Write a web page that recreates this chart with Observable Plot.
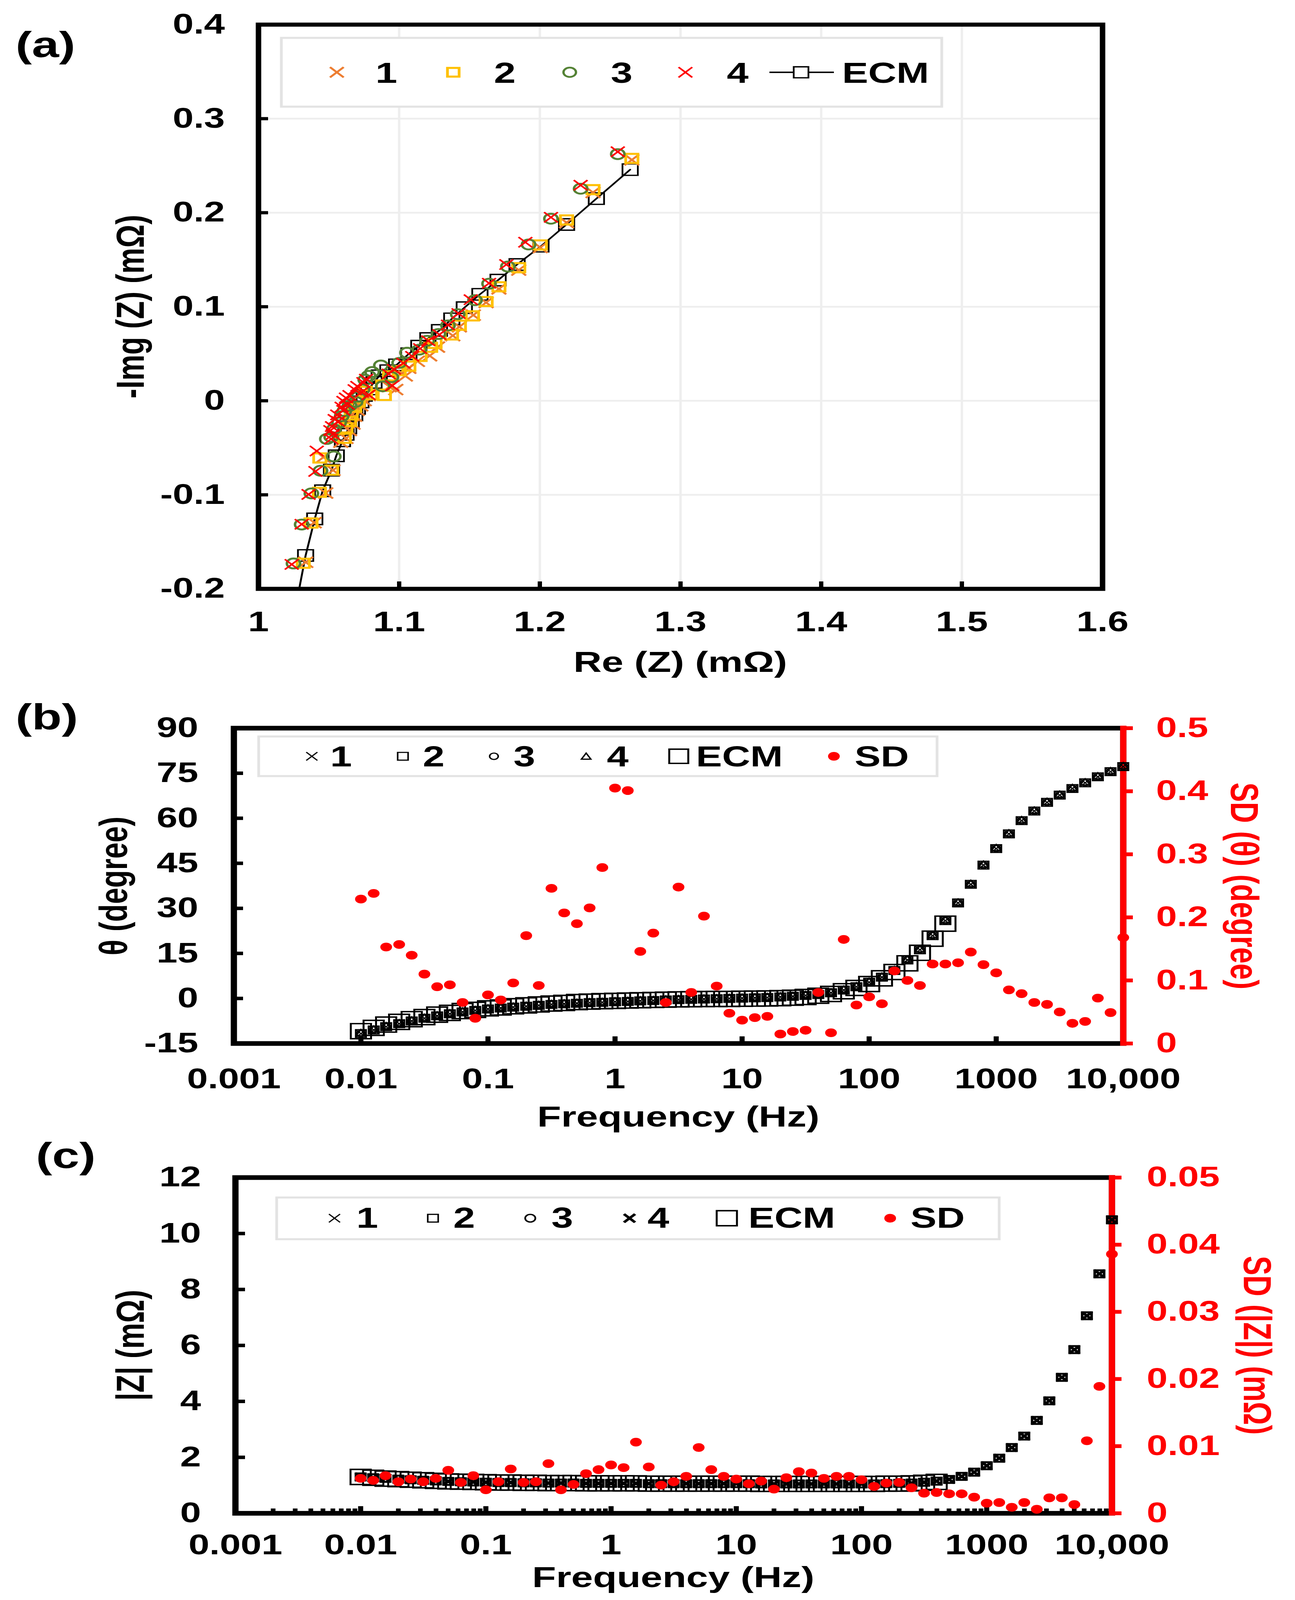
<!DOCTYPE html>
<html><head><meta charset="utf-8">
<script src="https://cdn.jsdelivr.net/npm/d3@7"></script>
<script src="https://cdn.jsdelivr.net/npm/@observablehq/plot@0.6"></script>
<style>
html,body{margin:0;padding:0;background:#fff;overflow:hidden;}
#page{position:relative;width:3314px;height:5490px;overflow:hidden;background:#fff;transform-origin:0 0;}
.panel{position:absolute;left:0;}
#overlay{position:absolute;left:0;top:0;pointer-events:none;}
</style></head>
<body><div id="page"></div>
<script>
// ---------------- DATA ----------------
const freq = [0.01,0.0126,0.0158,0.02,0.0251,0.0316,0.0398,0.0501,0.0631,0.0794,
  0.1,0.126,0.158,0.2,0.251,0.316,0.398,0.501,0.631,0.794,
  1,1.26,1.58,2,2.51,3.16,3.98,5.01,6.31,7.94,
  10,12.6,15.8,20,25.1,31.6,39.8,50.1,63.1,79.4,
  100,126,158,200,251,316,398,501,631,794,
  1000,1259,1585,1995,2512,3162,3981,5012,6310,7943,10000];

const thetaMeas = [-11.7,-10.5,-9.4,-8.4,-7.5,-6.6,-5.8,-5.1,-4.5,-4.0,
  -3.5,-3.2,-2.9,-2.6,-2.3,-2.0,-1.8,-1.6,-1.4,-1.3,
  -1.1,-1.0,-0.8,-0.7,-0.5,-0.4,-0.3,-0.2,-0.1,0.0,
  0.1,0.2,0.3,0.5,0.7,1.0,1.3,1.9,2.8,3.9,
  5.4,7.1,9.3,12.8,16.2,20.9,25.9,31.8,38.0,44.4,
  49.9,54.8,59.2,62.4,65.3,67.7,69.9,71.8,73.8,75.5,77.2];

const thetaECM = [-10.9,-9.8,-8.7,-7.8,-6.9,-6.2,-5.4,-4.8,-4.2,-3.8,
  -3.3,-3.0,-2.6,-2.3,-2.0,-1.7,-1.5,-1.2,-1.05,-0.9,
  -0.8,-0.7,-0.6,-0.5,-0.4,-0.3,-0.25,-0.2,-0.15,-0.15,
  -0.1,-0.05,0.0,0.1,0.25,0.5,0.9,1.5,2.4,3.5,
  4.8,6.7,8.8,11.7,15.2,19.9,24.9];

const sdTheta = [0.229,0.238,0.153,0.157,0.140,0.110,0.090,0.093,0.065,0.040,
  0.077,0.069,0.096,0.171,0.092,0.246,0.207,0.190,0.215,0.279,
  0.405,0.401,0.146,0.175,0.065,0.248,0.081,0.202,0.091,0.048,
  0.037,0.041,0.043,0.015,0.019,0.021,0.081,0.017,0.165,0.061,
  0.074,0.063,0.115,0.100,0.092,0.126,0.126,0.128,0.145,0.125,
  0.112,0.085,0.079,0.065,0.062,0.050,0.032,0.035,0.072,0.049,0.168];

const zMeas = [1.30,1.27,1.25,1.22,1.20,1.18,1.16,1.14,1.13,1.12,
  1.11,1.10,1.10,1.09,1.09,1.08,1.08,1.08,1.07,1.07,
  1.07,1.07,1.07,1.06,1.06,1.06,1.06,1.06,1.06,1.06,
  1.06,1.06,1.05,1.05,1.05,1.05,1.05,1.05,1.05,1.05,
  1.05,1.05,1.06,1.07,1.08,1.11,1.15,1.21,1.32,1.47,
  1.70,1.97,2.35,2.76,3.32,4.02,4.86,5.85,7.06,8.56,10.49];

const zECM = [1.30,1.27,1.24,1.22,1.20,1.18,1.16,1.14,1.13,1.12,
  1.11,1.10,1.10,1.09,1.09,1.08,1.08,1.08,1.07,1.07,
  1.07,1.07,1.07,1.06,1.06,1.06,1.06,1.06,1.06,1.06,
  1.06,1.06,1.05,1.05,1.05,1.05,1.05,1.05,1.05,1.05,
  1.05,1.05,1.06,1.06,1.07,1.09,1.12];

const sdZ = [0.0052,0.0049,0.0056,0.0047,0.0051,0.0047,0.0052,0.0064,0.0046,0.0056,
  0.0035,0.0047,0.0066,0.0046,0.0047,0.0074,0.0035,0.0043,0.0059,0.0065,
  0.0072,0.0068,0.0106,0.0069,0.0042,0.0047,0.0055,0.0098,0.0065,0.0055,
  0.0051,0.0044,0.0048,0.0036,0.0053,0.0062,0.0060,0.0052,0.0055,0.0055,
  0.0050,0.0040,0.0045,0.0046,0.0038,0.0030,0.0031,0.0029,0.0029,0.0024,
  0.0015,0.0016,0.0009,0.0016,0.0006,0.0023,0.0023,0.0013,0.0108,0.0189,0.0386];

// Nyquist: [Re, -Img]
const nyq1 = [[1.2654,0.2562],[1.2378,0.2215],[1.2190,0.1895],[1.2003,0.1630],[1.1850,0.1390],[1.1709,0.1190],[1.1618,0.1045],[1.1527,0.0911],[1.1428,0.0787],[1.1381,0.0693],[1.1273,0.0571],[1.1217,0.0479],[1.1130,0.0420],[1.1069,0.0347],[1.1044,0.0265],[1.0976,0.0119],[1.0930,0.0150],[1.0783,0.0057],[1.0752,0.0002],[1.0728,-0.0053],[1.0703,-0.0102],[1.0684,-0.0164],[1.0672,-0.0247],[1.0647,-0.0316],[1.0622,-0.0399],[1.0585,-0.0440],[1.0462,-0.0600],[1.0530,-0.0738],[1.0478,-0.0981],[1.0396,-0.1296],[1.0336,-0.1717]];
const nyq2 = [[1.2654,0.2577],[1.2378,0.2245],[1.2190,0.1923],[1.2003,0.1657],[1.1850,0.1415],[1.1709,0.1212],[1.1618,0.1055],[1.1521,0.0903],[1.1428,0.0803],[1.1372,0.0700],[1.1255,0.0610],[1.1224,0.0569],[1.1149,0.0472],[1.1069,0.0368],[1.1000,0.0320],[1.0932,0.0265],[1.0883,0.0168],[1.0895,0.0057],[1.0796,0.0064],[1.0760,0.0100],[1.0709,-0.0012],[1.0684,-0.0067],[1.0659,-0.0150],[1.0647,-0.0219],[1.0622,-0.0288],[1.0610,-0.0399],[1.0436,-0.0608],[1.0520,-0.0738],[1.0433,-0.0973],[1.0373,-0.1300],[1.0318,-0.1728]];
const nyq3 = [[1.2554,0.2623],[1.2290,0.2255],[1.2079,0.1936],[1.1920,0.1662],[1.1773,0.1427],[1.1639,0.1245],[1.1539,0.1070],[1.1416,0.0921],[1.1347,0.0801],[1.1279,0.0710],[1.1199,0.0638],[1.1143,0.0544],[1.1056,0.0511],[1.1000,0.0403],[1.0870,0.0375],[1.0808,0.0306],[1.0783,0.0265],[1.0759,0.0223],[1.0945,0.0251],[1.0883,0.0154],[1.0740,0.0120],[1.0709,0.0043],[1.0690,-0.0012],[1.0647,-0.0053],[1.0610,-0.0109],[1.0591,-0.0164],[1.0573,-0.0233],[1.0535,-0.0302],[1.0517,-0.0385],[1.0486,-0.0406],[1.0535,-0.0592],[1.0441,-0.0744],[1.0376,-0.0985],[1.0307,-0.1316],[1.0249,-0.1730]];
const nyq4 = [[1.2554,0.2648],[1.2290,0.2292],[1.2079,0.1951],[1.1897,0.1686],[1.1762,0.1449],[1.1639,0.1250],[1.1509,0.1075],[1.1422,0.0928],[1.1347,0.0806],[1.1286,0.0704],[1.1207,0.0638],[1.1149,0.0555],[1.1093,0.0472],[1.1030,0.0400],[1.0963,0.0334],[1.0926,0.0285],[1.0951,0.0161],[1.0765,0.0230],[1.0746,0.0195],[1.0703,0.0154],[1.0684,0.0119],[1.0734,0.0092],[1.0783,0.0064],[1.0647,0.0057],[1.0622,0.0030],[1.0604,-0.0005],[1.0635,-0.0039],[1.0591,-0.0067],[1.0604,-0.0102],[1.0560,-0.0150],[1.0542,-0.0198],[1.0566,-0.0219],[1.0523,-0.0274],[1.0511,-0.0316],[1.0529,-0.0357],[1.0517,-0.0406],[1.0414,-0.0534],[1.0405,-0.0751],[1.0356,-0.0996],[1.0307,-0.1313],[1.0236,-0.1740]];
const nyqECM = [[1.2642,0.2458],[1.2402,0.2150],[1.2190,0.1875],[1.2008,0.1644],[1.1838,0.1449],[1.1703,0.1283],[1.1574,0.1132],[1.1463,0.0990],[1.1374,0.0871],[1.1286,0.0748],[1.1204,0.0662],[1.1140,0.0581],[1.1069,0.0500],[1.0982,0.0382],[1.0920,0.0320],[1.0858,0.0265],[1.0821,0.0195],[1.0783,0.0126],[1.0752,0.0057],[1.0728,-0.0012],[1.0703,-0.0081],[1.0684,-0.0150],[1.0659,-0.0219],[1.0641,-0.0288],[1.0622,-0.0357],[1.0597,-0.0426],[1.0553,-0.0585],[1.0519,-0.0738],[1.0456,-0.0957],[1.0400,-0.1256],[1.0335,-0.1645],[1.0270,-0.2150]];

// ticks & labels
const xTicksA = [1,1.1,1.2,1.3,1.4,1.5,1.6];
const xLabelsA = ["1","1.1","1.2","1.3","1.4","1.5","1.6"];
const yTicksA = [-0.2,-0.1,0,0.1,0.2,0.3,0.4];
const yLabelsA = ["-0.2","-0.1","0","0.1","0.2","0.3","0.4"];
const freqTicks = [0.001,0.01,0.1,1,10,100,1000,10000];
const freqLabels = ["0.001","0.01","0.1","1","10","100","1000","10,000"];
const thetaTicks = [-15,0,15,30,45,60,75,90];
const thetaLabels = ["-15","0","15","30","45","60","75","90"];
const sdThetaTicks = [0,0.1,0.2,0.3,0.4,0.5];
const sdThetaLabels = ["0","0.1","0.2","0.3","0.4","0.5"];
const zTicks = [0,2,4,6,8,10,12];
const zLabels = ["0","2","4","6","8","10","12"];
const sdZTicks = [0,0.01,0.02,0.03,0.04,0.05];
const sdZLabels = ["0","0.01","0.02","0.03","0.04","0.05"];

// ---------------- STYLE ----------------
const FONT = "'Liberation Sans', Arial, sans-serif";
const TICKFS = 96;
const C1 = "#ED7D31", C2 = "#FFC000", C3 = "#548235", C4 = "#FF0000";
const plotStyle = {background:"transparent", fontFamily: FONT, fontWeight:"bold", fontSize: TICKFS+"px", maxWidth:"none"};
const page = document.getElementById("page");
// the browser viewport may be shorter than the 5490 px figure: fit the figure into it vertically
const vh = window.innerHeight || 5490;
if (vh < 5490) { page.style.transform = `scale(1, ${vh/5490})`; document.body.style.height = vh + "px"; }
function place(svg, top){ const d=document.createElement("div"); d.className="panel"; d.style.top=top+"px"; d.appendChild(svg); page.appendChild(d); }
const fmt = (ticks, labels) => d => labels[ticks.indexOf(d)];
const axisText = {fontSize: TICKFS, fontWeight:"bold", fontFamily: FONT};

// ---------------- PANEL A ----------------
const A = Plot.plot({
  width:3314, height:2400, marginTop:84, marginBottom:380, marginLeft:661, marginRight:493,
  style: plotStyle,
  x:{domain:[1,1.6], axis:null}, y:{domain:[-0.2,0.4], axis:null},
  marks:[
    Plot.gridX(xTicksA, {stroke:"#eeeeee", strokeOpacity:1, strokeWidth:6}),
    Plot.gridY(yTicksA, {stroke:"#eeeeee", strokeOpacity:1, strokeWidth:6}),
    Plot.line(nyqECM, {x:d=>d[0], y:d=>d[1], stroke:"black", strokeWidth:5, clip:true}),
    Plot.dot(nyqECM, {x:d=>d[0], y:d=>d[1], symbol:"square2", r:25, stroke:"black", strokeWidth:4.5, fill:"none", clip:true}),
    Plot.dot(nyq1, {x:d=>d[0], y:d=>d[1], symbol:"times", r:17, stroke:C1, strokeWidth:6}),
    Plot.dot(nyq2, {x:d=>d[0], y:d=>d[1], symbol:"square2", r:20, stroke:C2, strokeWidth:7, fill:"none"}),
    Plot.dot(nyq3, {x:d=>d[0], y:d=>d[1], symbol:"circle", r:17, stroke:C3, strokeWidth:6.5, fill:"none"}),
    Plot.dot(nyq4, {x:d=>d[0], y:d=>d[1], symbol:"times", r:16, stroke:C4, strokeWidth:5}),
    Plot.frame({stroke:"black", strokeWidth:14}),
    Plot.axisX(xTicksA, {anchor:"bottom", tickSize:-25, tickPadding:102, strokeWidth:11, tickFormat: fmt(xTicksA,xLabelsA), label:null, ...axisText}),
    Plot.axisY(yTicksA, {anchor:"left", tickSize:-25, tickPadding:111, strokeWidth:11, tickFormat: fmt(yTicksA,yLabelsA), label:null, ...axisText})
  ]
});
place(A, 0);

// ---------------- PANEL B ----------------
const sdToTheta = v => -15 + v/0.5*105;
const tableB = freq.map((f,i)=>({f, theta: thetaMeas[i], sd: sdToTheta(sdTheta[i])}));
const ecmB = thetaECM.map((t,i)=>({f: freq[i], theta: t}));
const rightTicksB = sdThetaTicks.map(sdToTheta);
const B = Plot.plot({
  width:3314, height:1550, marginTop:98, marginBottom:370, marginLeft:598, marginRight:440,
  style: plotStyle,
  x:{type:"log", domain:[0.001,10000], axis:null}, y:{domain:[-15,90], axis:null},
  marks:[
    Plot.frame({stroke:"black", strokeWidth:16}),
    Plot.axisX(freqTicks, {anchor:"bottom", tickSize:-24, tickPadding:109, strokeWidth:13, tickFormat: fmt(freqTicks,freqLabels), label:null, ...axisText}),
    Plot.axisY(thetaTicks, {anchor:"left", tickSize:-24, tickPadding:115, strokeWidth:12, tickFormat: fmt(thetaTicks,thetaLabels), label:null, ...axisText}),
    Plot.ruleX([10000], {stroke:C4, strokeWidth:16, insetTop:-8, insetBottom:-8}),
    Plot.axisY(rightTicksB, {anchor:"right", tickSize:24, tickPadding:60, stroke:C4, fill:C4, strokeWidth:13, tickFormat: fmt(rightTicksB,sdThetaLabels), label:null, ...axisText}),
    Plot.dot(ecmB, {x:"f", y:"theta", symbol:"square2", r:33, stroke:"black", strokeWidth:5, fill:"none"}),
    Plot.dot(tableB, {x:"f", y:"theta", symbol:"times", r:13, stroke:"black", strokeWidth:3.5}),
    Plot.dot(tableB, {x:"f", y:"theta", symbol:"square2", r:17, stroke:"black", strokeWidth:4, fill:"none"}),
    Plot.dot(tableB, {x:"f", y:"theta", symbol:"circle", r:11, stroke:"black", strokeWidth:4, fill:"none"}),
    Plot.dot(tableB, {x:"f", y:"theta", symbol:"triangle2", r:11.5, stroke:"black", strokeWidth:4, fill:"none"}),
    Plot.dot(tableB, {x:"f", y:"sd", r:15, fill:C4, stroke:null})
  ]
});
place(B, 2400);

// ---------------- PANEL C ----------------
const sdToZ = v => v/0.05*12;
const tableC = freq.map((f,i)=>({f, z: zMeas[i], sd: sdToZ(sdZ[i])}));
const ecmC = zECM.map((z,i)=>({f: freq[i], z}));
const rightTicksC = sdZTicks.map(sdToZ);
const minorTicks = [];
for (let e=-3;e<4;e++) for (let m=2;m<10;m++) minorTicks.push(m*Math.pow(10,e));
const Cp = Plot.plot({
  width:3314, height:1540, marginTop:90, marginBottom:298, marginLeft:602, marginRight:469,
  style: plotStyle,
  x:{type:"log", domain:[0.001,10000], axis:null}, y:{domain:[0,12], axis:null},
  marks:[
    Plot.frame({stroke:"black", strokeWidth:16}),
    Plot.axisX(minorTicks, {anchor:"bottom", tickSize:-16, strokeWidth:12, tickFormat:()=>"", label:null}),
    Plot.axisX(freqTicks, {anchor:"bottom", tickSize:-24, tickPadding:96, strokeWidth:13, tickFormat: fmt(freqTicks,freqLabels), label:null, ...axisText}),
    Plot.axisY(zTicks, {anchor:"left", tickSize:-25, tickPadding:113, strokeWidth:12, tickFormat: fmt(zTicks,zLabels), label:null, ...axisText}),
    Plot.ruleX([10000], {stroke:C4, strokeWidth:16, insetTop:-8, insetBottom:-8}),
    Plot.axisY(rightTicksC, {anchor:"right", tickSize:24, tickPadding:65, stroke:C4, fill:C4, strokeWidth:13, tickFormat: fmt(rightTicksC,sdZLabels), label:null, ...axisText}),
    Plot.dot(ecmC, {x:"f", y:"z", symbol:"square2", r:33, stroke:"black", strokeWidth:5, fill:"none"}),
    Plot.dot(tableC, {x:"f", y:"z", symbol:"times", r:13, stroke:"black", strokeWidth:3.5}),
    Plot.dot(tableC, {x:"f", y:"z", symbol:"square2", r:17, stroke:"black", strokeWidth:4, fill:"none"}),
    Plot.dot(tableC, {x:"f", y:"z", symbol:"circle", r:11, stroke:"black", strokeWidth:4, fill:"none"}),
    Plot.dot(tableC, {x:"f", y:"z", symbol:"times", r:12, stroke:"black", strokeWidth:8}),
    Plot.dot(tableC, {x:"f", y:"sd", r:15, fill:C4, stroke:null})
  ]
});
place(Cp, 3950);

// ---------------- OVERLAY: labels, titles, legends ----------------
const ov = d3.select(page).append("svg").attr("id","overlay").attr("width",3314).attr("height",5490)
  .attr("font-family", FONT).attr("font-weight","bold");
function txt(x,y,s,{size=100, anchor="start", fill="black", rotate=0, dy=null}={}){
  const t = ov.append("text").attr("x",x).attr("y",y).attr("font-size",size).attr("text-anchor",anchor).attr("fill",fill).text(s);
  if (dy) t.attr("dy", dy);
  if (rotate) t.attr("transform",`rotate(${rotate},${x},${y})`);
  return t;
}
function sym(type, x, y, r, stroke, sw, fill="none"){
  ov.append("path").attr("d", d3.symbol(type, Math.PI*r*r)()).attr("transform",`translate(${x},${y})`)
    .attr("fill", fill).attr("stroke", stroke).attr("stroke-width", sw);
}
function box(x1,y1,x2,y2){
  ov.append("rect").attr("x",x1).attr("y",y1).attr("width",x2-x1).attr("height",y2-y1)
    .attr("fill","white").attr("stroke","#e3e3e3").attr("stroke-width",7);
}
// panel letters
txt(40,196,"(a)",{size:125});
txt(40,2502,"(b)",{size:125});
txt(92,4007,"(c)",{size:125});
// axis titles
txt(1741,2305,"Re (Z) (mΩ)",{anchor:"middle"});
txt(333,1052,"-Img (Z) (mΩ)",{anchor:"middle", rotate:-90, dy:"0.35em"});
txt(1736,3866,"Frequency (Hz)",{anchor:"middle"});
txt(290,3040,"θ (degree)",{anchor:"middle", rotate:-90, dy:"0.35em"});
txt(3185,3040,"SD (θ) (degree)",{anchor:"middle", rotate:90, dy:"0.35em", fill:C4});
txt(1723,5446,"Frequency (Hz)",{anchor:"middle"});
txt(333,4616,"|Z| (mΩ)",{anchor:"middle", rotate:-90, dy:"0.35em"});
txt(3218,4616,"SD (|Z|) (mΩ)",{anchor:"middle", rotate:90, dy:"0.35em", fill:C4});

// legend a
box(720,130,2410,366);
{ const cy=248, by=284;
  sym(d3.symbolTimes, 862, cy, 16, C1, 6); txt(961,by,"1");
  sym(d3.symbolSquare2, 1160, cy, 19, C2, 7); txt(1264,by,"2");
  sym(d3.symbolCircle, 1458, cy, 16, C3, 6); txt(1563,by,"3");
  sym(d3.symbolTimes, 1754, cy, 16, C4, 5); txt(1860,by,"4");
  ov.append("line").attr("x1",1969).attr("x2",2134).attr("y1",cy).attr("y2",cy).attr("stroke","black").attr("stroke-width",5);
  sym(d3.symbolSquare2, 2050, cy, 24, "black", 4.5, "white"); txt(2155,by,"ECM");
}
// legend b
box(662,2527,2398,2663);
{ const cy=2595, by=2630;
  sym(d3.symbolTimes, 798, cy, 13, "black", 3.5); txt(845,by,"1");
  sym(d3.symbolSquare2, 1031, cy, 17, "black", 4); txt(1082,by,"2");
  sym(d3.symbolCircle, 1264, cy, 11, "black", 4); txt(1314,by,"3");
  sym(d3.symbolTriangle2, 1500, cy+3, 11.5, "black", 4); txt(1553,by,"4");
  sym(d3.symbolSquare2, 1737, cy, 31, "black", 5); txt(1781,by,"ECM");
  sym(d3.symbolCircle, 2134, cy, 15, "none", 0, C4); txt(2187,by,"SD");
}
// legend c
box(708,4109,2557,4252);
{ const cy=4180, by=4213;
  sym(d3.symbolTimes, 856, cy, 13, "black", 3.5); txt(912,by,"1");
  sym(d3.symbolSquare2, 1108, cy, 17, "black", 4); txt(1160,by,"2");
  sym(d3.symbolCircle, 1357, cy, 13, "black", 4.5); txt(1411,by,"3");
  sym(d3.symbolTimes, 1611, cy, 13, "black", 8); txt(1657,by,"4");
  sym(d3.symbolSquare2, 1860, cy, 33, "black", 5); txt(1915,by,"ECM");
  sym(d3.symbolCircle, 2278, cy, 15, "none", 0, C4); txt(2330,by,"SD");
}
</script></body></html>
